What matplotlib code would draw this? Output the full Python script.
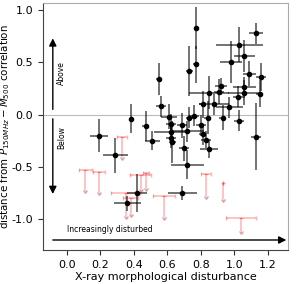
import matplotlib
matplotlib.use("Agg")
import matplotlib.pyplot as plt
import numpy as np

plt.rcParams['axes.unicode_minus'] = False
plt.rcParams['font.family'] = ['DejaVu Sans']

# Detections: x, y, xerr, yerr
det_x = [0.19, 0.29, 0.36, 0.42, 0.38, 0.47, 0.51, 0.55, 0.56, 0.73,
         0.77, 0.77, 1.13, 1.03, 1.06, 0.98, 1.09, 1.16, 0.92, 0.85,
         0.91, 1.06, 1.06, 1.02, 1.15, 0.81, 0.88, 0.97, 0.84, 0.93,
         1.03, 1.13, 0.61, 0.62, 0.62, 0.62, 0.63, 0.69, 0.72, 0.73,
         0.76, 0.70, 0.72, 0.69, 0.80, 0.81, 0.83, 0.85]
det_y = [-0.20, -0.39, -0.85, -0.75, -0.04, -0.11, -0.25, 0.34, 0.08, 0.42,
         0.83, 0.48, 0.78, 0.67, 0.56, 0.50, 0.39, 0.36, 0.27, 0.21,
         0.22, 0.26, 0.21, 0.17, 0.20, 0.10, 0.10, 0.07, -0.03, -0.03,
         -0.06, -0.21, -0.02, -0.09, -0.17, -0.22, -0.26, -0.10, -0.16, -0.03,
         -0.01, -0.32, -0.48, -0.75, -0.10, -0.19, -0.24, -0.33]
det_xerr = [0.054, 0.075, 0.08, 0.06, 0.01, 0.02, 0.045, 0.02, 0.03, 0.02,
            0.01, 0.02, 0.04, 0.14, 0.065, 0.065, 0.04, 0.03, 0.035, 0.12,
            0.03, 0.07, 0.10, 0.03, 0.02, 0.02, 0.09, 0.08, 0.02, 0.02,
            0.03, 0.03, 0.05, 0.03, 0.10, 0.03, 0.02, 0.03, 0.10, 0.02,
            0.03, 0.03, 0.10, 0.087, 0.03, 0.02, 0.03, 0.055]
det_yerr = [0.16, 0.17, 0.07, 0.18, 0.14, 0.14, 0.09, 0.15, 0.10, 0.24,
            0.20, 0.18, 0.10, 0.17, 0.15, 0.20, 0.12, 0.13, 0.08, 0.16,
            0.12, 0.10, 0.12, 0.10, 0.13, 0.13, 0.10, 0.10, 0.16, 0.12,
            0.10, 0.32, 0.12, 0.10, 0.10, 0.10, 0.20, 0.12, 0.10, 0.10,
            0.10, 0.12, 0.14, 0.07, 0.10, 0.10, 0.08, 0.09]

# Upper limits: x, top y, arrow length, xerr
lim_x = [0.33, 0.11, 0.19, 0.47, 0.44, 0.35, 0.38, 0.58, 0.83, 0.93, 1.04]
lim_y = [-0.21, -0.53, -0.55, -0.56, -0.58, -0.75, -0.80, -0.78, -0.57, -0.65, -0.99]
lim_len = [0.20, 0.19, 0.19, 0.14, 0.13, 0.22, 0.15, 0.20, 0.21, 0.16, 0.12]
lim_xerr = [0.03, 0.04, 0.036, 0.018, 0.065, 0.087, 0.045, 0.066, 0.03, 0.0, 0.09]

fig = plt.figure(figsize=(2.96, 2.84), dpi=100)
ax = fig.add_axes([0.145, 0.12, 0.828, 0.869])

ax.axhline(0, color='#bbbbbb', lw=0.8, zorder=0)

ax.errorbar(lim_x, lim_y, xerr=lim_xerr, yerr=lim_len, uplims=True,
            fmt='none', ecolor='red', alpha=0.3, elinewidth=1.1, capsize=1.5)

ax.errorbar(det_x, det_y, xerr=det_xerr, yerr=det_yerr, fmt='o', color='k',
            ms=3, ecolor=(0, 0, 0, 0.7), elinewidth=1.1, capsize=0)

ap = dict(arrowstyle='-|>', color='k', lw=1.0, mutation_scale=11, shrinkA=0, shrinkB=0)
ax.annotate('', xy=(-0.084, 0.73), xytext=(-0.084, 0.05), arrowprops=ap)
ax.annotate('', xy=(-0.084, -0.76), xytext=(-0.084, -0.04), arrowprops=ap)
ax.annotate('', xy=(1.31, -1.20), xytext=(-0.084, -1.20), arrowprops=ap)
ax.text(-0.03, 0.40, 'Above', rotation=90, fontsize=5.5, ha='center', va='center')
ax.text(-0.03, -0.22, 'Below', rotation=90, fontsize=5.5, ha='center', va='center')
ax.text(0.0, -1.10, 'Increasingly disturbed', fontsize=5.5, ha='left', va='center')

ax.set_xlim(-0.143, 1.32)
ax.set_ylim(-1.295, 1.067)
ax.set_xticks([0.0, 0.2, 0.4, 0.6, 0.8, 1.0, 1.2])
ax.set_yticks([-1.0, -0.5, 0.0, 0.5, 1.0])
ax.tick_params(labelsize=8, length=3.5, width=0.8, colors='#333333', labelcolor='k')
for s in ['top', 'right']:
    ax.spines[s].set_color('#aaaaaa')
for s in ['left', 'bottom']:
    ax.spines[s].set_color('#444444')
ax.set_xlabel('X-ray morphological disturbance', fontsize=8, labelpad=2)
ax.set_ylabel(r'distance from $P_{150MHz} - M_{500}$ correlation', fontsize=7.4)
ax.yaxis.set_label_coords(-0.125, 0.5)

fig.savefig('out.png', dpi=100)
